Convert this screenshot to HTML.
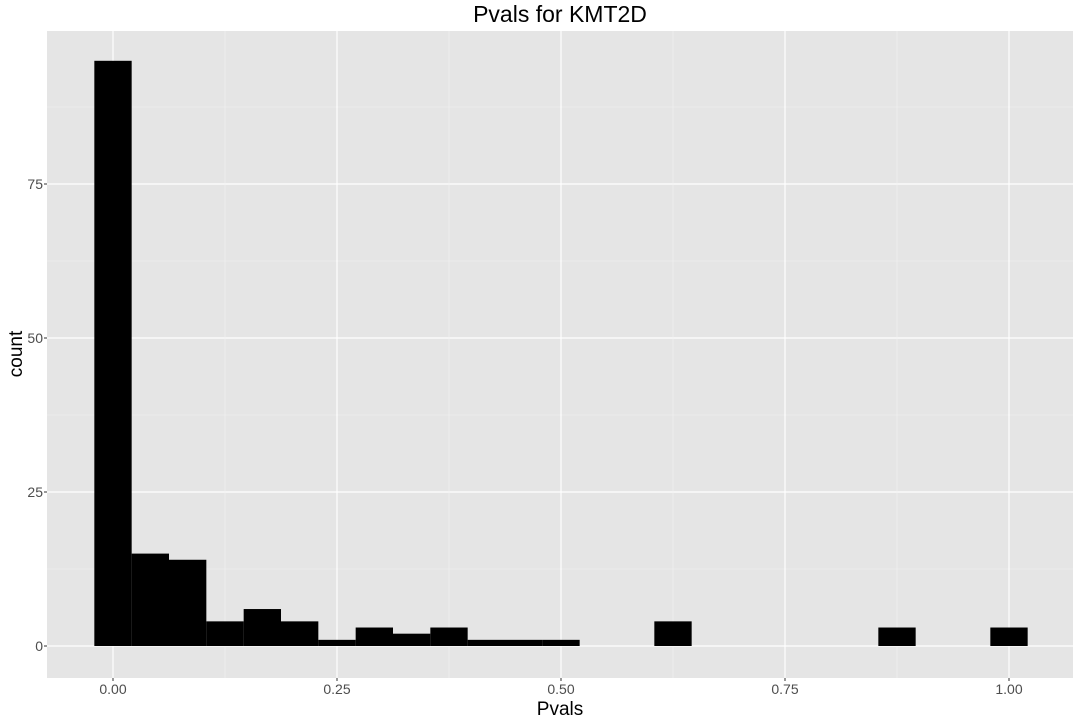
<!DOCTYPE html>
<html><head><meta charset="utf-8"><style>
body{margin:0;background:#fff;font-family:"Liberation Sans",sans-serif;}
</style></head><body>
<svg id="chart" width="1080" height="720" xmlns="http://www.w3.org/2000/svg">
<text x="560" y="22" font-size="23" text-anchor="middle" fill="#000">Pvals for KMT2D</text>
<rect x="47" y="31" width="1026" height="647" fill="#e5e5e5"/>
<g id="grid"></g><g id="bars"></g><g id="axes"></g>
<text x="560" y="715" font-size="19" text-anchor="middle" fill="#000">Pvals</text>
<text x="0" y="0" font-size="19" text-anchor="middle" fill="#000" transform="translate(22,354) rotate(-90)">count</text>
</svg>
<script>
const binCenters=[0,1,2,3,4,5,6,7,8,9,10,11,12,13,14,15,16,17,18,19,20,21,22,23,24];
const counts=[95,15,14,4,6,4,1,3,2,3,1,1,1,0,0,4,0,0,0,0,0,3,0,0,3];
const xTicks=[0,0.25,0.5,0.75,1];
const xTickLabels=["0.00","0.25","0.50","0.75","1.00"];
const yTicks=[0,25,50,75];
const binWidth=1/24;
const X=v=>113+v*896;
const Y=v=>646-v*6.16;
const ns="http://www.w3.org/2000/svg";
function mk(t,a,p){const e=document.createElementNS(ns,t);for(const k in a)e.setAttribute(k,a[k]);p.appendChild(e);return e;}
const grid=document.getElementById('grid'),bars=document.getElementById('bars'),axes=document.getElementById('axes');
for(let i=0;i<yTicks.length;i++){
 const v=yTicks[i];
 const g=mk('line',{x1:47,x2:1073,y1:Y(v),y2:Y(v),stroke:'#fff','stroke-width':1.2},grid);
 
 
 const m=mk('line',{x1:47,x2:1073,y1:Y(v+12.5),y2:Y(v+12.5),stroke:'#f2f2f2','stroke-width':0.6},grid);
 
 
 const t=mk('text',{x:43,y:Y(v)+5,'font-size':14,'text-anchor':'end',fill:'#4d4d4d'},axes);
 t.textContent=v;
 
 
 const tk=mk('line',{x1:44,x2:47,y1:Y(v),y2:Y(v),stroke:'#333'},axes);
 
 
}
for(let i=0;i<xTicks.length;i++){
 const v=xTicks[i];
 const g=mk('line',{x1:X(v),x2:X(v),y1:31,y2:678,stroke:'#fff','stroke-width':1.2},grid);
 
 
 if(i<xTicks.length-1){
 const m=mk('line',{x1:X(v+0.125),x2:X(v+0.125),y1:31,y2:678,stroke:'#f2f2f2','stroke-width':0.6},grid);
 
 }
 const t=mk('text',{x:X(v),y:694,'font-size':14,'text-anchor':'middle',fill:'#4d4d4d'},axes);
 t.textContent=xTickLabels[i];
 
 
 const tk=mk('line',{x1:X(v),x2:X(v),y1:678,y2:681,stroke:'#333'},axes);
 
 
}
for(let i=0;i<counts.length;i++){
 if(counts[i]<=0)continue;
 const c=binCenters[i]*binWidth;
 const x0=X(c-binWidth/2),x1=X(c+binWidth/2);
 const r=mk('rect',{x:x0,y:Y(counts[i]),width:x1-x0,height:Y(0)-Y(counts[i]),fill:'#000'},bars);
 
 
}
</script>
</body></html>
